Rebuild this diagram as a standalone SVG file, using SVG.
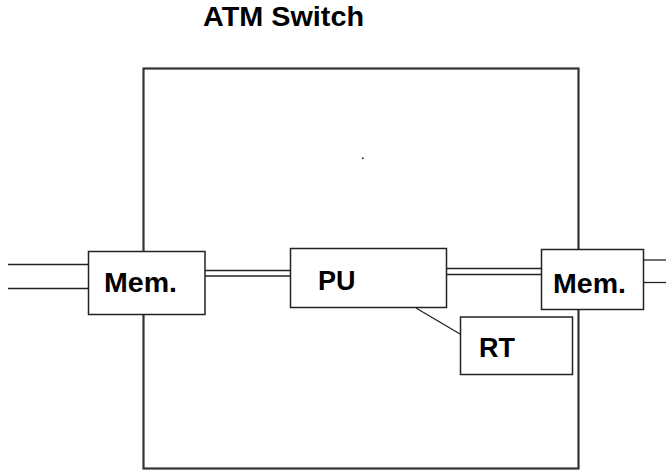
<svg xmlns="http://www.w3.org/2000/svg" width="666" height="471" viewBox="0 0 666 471">
<style>
.b{fill:#fff;stroke:#222;stroke-width:1.5}
.l{stroke:#222;stroke-width:1.3;fill:none}
.t{font-family:"Liberation Sans",Arial,sans-serif;font-weight:bold;font-size:27px;fill:#000}
</style>
<rect width="666" height="471" fill="#fff"/>
<text class="t" x="203" y="26" textLength="161" lengthAdjust="spacingAndGlyphs">ATM Switch</text>
<g id="switch">
<rect x="143.5" y="68.5" width="435" height="400" fill="none" stroke="#333" stroke-width="2.2"/>
</g>
<g id="connectors">
<line class="l" x1="8" y1="264.5" x2="88" y2="264.5"/>
<line class="l" x1="8" y1="288.5" x2="88" y2="288.5"/>
<line class="l" x1="205" y1="270.5" x2="290" y2="270.5"/>
<line class="l" x1="205" y1="276" x2="290" y2="276"/>
<line class="l" x1="447" y1="268.5" x2="541" y2="268.5"/>
<line class="l" x1="447" y1="274.5" x2="541" y2="274.5"/>
<line class="l" x1="643" y1="260" x2="666" y2="260"/>
<line class="l" x1="643" y1="282.5" x2="666" y2="282.5"/>
<line class="l" x1="416" y1="308" x2="460" y2="334"/>
</g>
<g id="mem-left">
<rect class="b" x="88.5" y="251.5" width="116.5" height="63"/>
<text class="t" x="104" y="292" textLength="73" lengthAdjust="spacingAndGlyphs">Mem.</text>
</g>
<g id="pu">
<rect class="b" x="290.5" y="248.5" width="156" height="59"/>
<text class="t" x="318" y="290">PU</text>
</g>
<g id="mem-right">
<rect class="b" x="541.5" y="249.5" width="102" height="60"/>
<text class="t" x="553" y="293" textLength="73" lengthAdjust="spacingAndGlyphs">Mem.</text>
</g>
<g id="rt">
<rect class="b" x="460.5" y="317" width="112" height="57.5"/>
<text class="t" x="479" y="357">RT</text>
</g>
<rect x="362" y="157.5" width="1.5" height="1.5" fill="#000"/>
</svg>
